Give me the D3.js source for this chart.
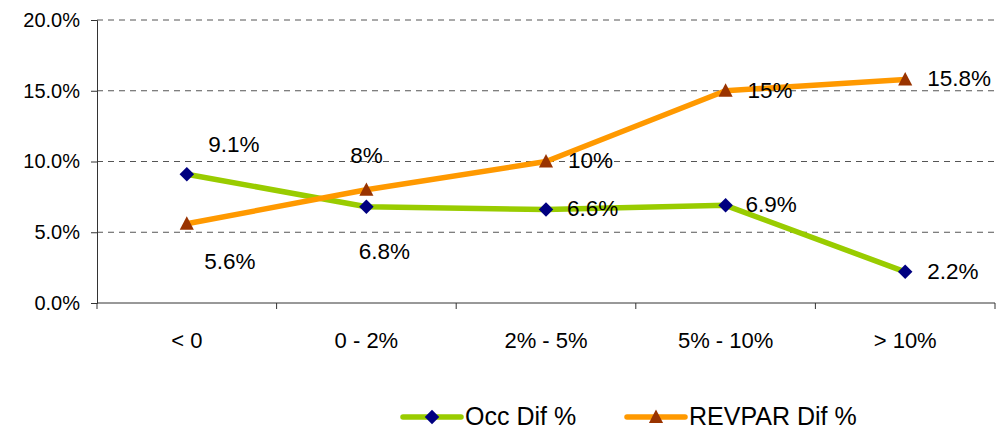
<!DOCTYPE html>
<html>
<head>
<meta charset="utf-8">
<script src="https://cdn.jsdelivr.net/npm/d3@7"></script>
<style>
  html, body { margin: 0; padding: 0; background: #fff; }
  svg { display: block; font-family: "Liberation Sans", Arial, sans-serif; }
</style>
</head>
<body>
<svg id="chart" width="997" height="431"></svg>
<script>
// Category buckets on the x axis
const categories = ["< 0", "0 - 2%", "2% - 5%", "5% - 10%", "> 10%"];
// Occupancy difference (%)
const occValues = [9.1, 6.8, 6.6, 6.9, 2.2];
const occLabels = ["9.1%", "6.8%", "6.6%", "6.9%", "2.2%"];
// RevPAR difference (%)
const revparValues = [5.6, 8, 10, 15, 15.8];
const revparLabels = ["5.6%", "8%", "10%", "15%", "15.8%"];
// Y axis ticks
const yTicks = [0, 5, 10, 15, 20];

// Where each data label sits relative to its marker
const occPlacement = [[47, -22, "middle"], [18, 52, "middle"], [21, 6, "start"], [20, 7, "start"], [22, 7, "start"]];
const revPlacement = [[43, 45, "middle"], [0, -27, "middle"], [22, 6, "start"], [22, 7, "start"], [22, 7, "start"]];

const FONT = "Liberation Sans, Arial, sans-serif";
const svg = d3.select("#chart");
const plot = { left: 97, right: 995, top: 20, bottom: 303 };

const x = d3.scaleBand().domain(categories).range([plot.left, plot.right]).padding(0);
const y = d3.scaleLinear().domain([0, 20]).range([plot.bottom, plot.top]);
const cx = c => x(c) + x.bandwidth() / 2;

// Marker shapes: square diamond and a slightly tall triangle
const diamond = {
  draw(ctx, size) {
    const r = Math.sqrt(size) / 2;
    ctx.moveTo(0, -r); ctx.lineTo(r, 0); ctx.lineTo(0, r); ctx.lineTo(-r, 0); ctx.closePath();
  }
};
const triangle = {
  draw(ctx, size) {
    const w = Math.sqrt(size) / 2;
    ctx.moveTo(0, -w * 1.05); ctx.lineTo(w, w * 0.85); ctx.lineTo(-w, w * 0.85); ctx.closePath();
  }
};

// Dashed gridlines
svg.append("g").selectAll("line").data(yTicks.filter(t => t > 0)).join("line")
  .attr("x1", plot.left).attr("x2", plot.right)
  .attr("y1", d => y(d)).attr("y2", d => y(d))
  .attr("stroke", "#555").attr("stroke-width", 1)
  .attr("stroke-dasharray", "6,5");

// Y axis
const yAxis = svg.append("g").attr("transform", `translate(${plot.left},0)`)
  .call(d3.axisLeft(y).tickValues(yTicks).tickSize(6).tickPadding(11)
    .tickFormat(d => d3.format(".1f")(d) + "%"));
yAxis.attr("font-size", null).attr("font-family", null);
yAxis.select(".domain").attr("stroke", "#333");
yAxis.selectAll(".tick line").attr("stroke", "#333");
yAxis.selectAll("text").attr("font-size", 20).attr("fill", "#000").attr("font-family", FONT);

// X axis with ticks at category boundaries
const xAxisG = svg.append("g").attr("transform", `translate(0,${plot.bottom})`);
xAxisG.append("line").attr("x1", plot.left).attr("x2", plot.right)
  .attr("y1", 0).attr("y2", 0).attr("stroke", "#333");
const bounds = categories.map(c => x(c)).concat([plot.right]);
xAxisG.selectAll("line.tk").data(bounds).join("line").attr("class", "tk")
  .attr("x1", d => d).attr("x2", d => d).attr("y1", 0).attr("y2", 6)
  .attr("stroke", "#333");
xAxisG.selectAll("text").data(categories).join("text")
  .attr("x", d => cx(d)).attr("y", 45)
  .attr("text-anchor", "middle").attr("font-size", 22).attr("fill", "#000")
  .text(d => d);

const line = d3.line().x((d, i) => cx(categories[i])).y(d => y(d));

// Series lines and markers
function drawSeries(values, color, markerColor, symbolType, size) {
  svg.append("path").datum(values)
    .attr("fill", "none").attr("stroke", color).attr("stroke-width", 5.5)
    .attr("stroke-linejoin", "round").attr("d", line);
  svg.append("g").selectAll("path").data(values).join("path")
    .attr("transform", (d, i) => `translate(${cx(categories[i])},${y(d)})`)
    .attr("d", d3.symbol().type(symbolType).size(size))
    .attr("fill", markerColor);
}
drawSeries(occValues, "#99CC00", "#000080", diamond, 210);
drawSeries(revparValues, "#FF9900", "#993300", triangle, 200);

// Data labels
function drawLabels(values, labels, placement) {
  svg.append("g").selectAll("text").data(values).join("text")
    .attr("x", (d, i) => cx(categories[i]) + placement[i][0])
    .attr("y", (d, i) => y(d) + placement[i][1])
    .attr("text-anchor", (d, i) => placement[i][2])
    .attr("font-size", 22.5).attr("fill", "#000")
    .text((d, i) => labels[i]);
}
drawLabels(occValues, occLabels, occPlacement);
drawLabels(revparValues, revparLabels, revPlacement);

// Legend
const legend = [
  { name: "Occ Dif %", color: "#99CC00", marker: "#000080", type: diamond, size: 210, x: 403 },
  { name: "REVPAR Dif %", color: "#FF9900", marker: "#993300", type: triangle, size: 200, x: 627 }
];
const lg = svg.append("g");
legend.forEach(l => {
  lg.append("line").attr("x1", l.x).attr("x2", l.x + 58).attr("y1", 417).attr("y2", 417)
    .attr("stroke", l.color).attr("stroke-width", 5.5).attr("stroke-linecap", "round");
  lg.append("path").attr("transform", `translate(${l.x + 29},417)`)
    .attr("d", d3.symbol().type(l.type).size(l.size)).attr("fill", l.marker);
  lg.append("text").attr("x", l.x + 62).attr("y", 425).attr("font-size", 25).attr("fill", "#000")
    .text(l.name);
});
</script>
</body>
</html>
